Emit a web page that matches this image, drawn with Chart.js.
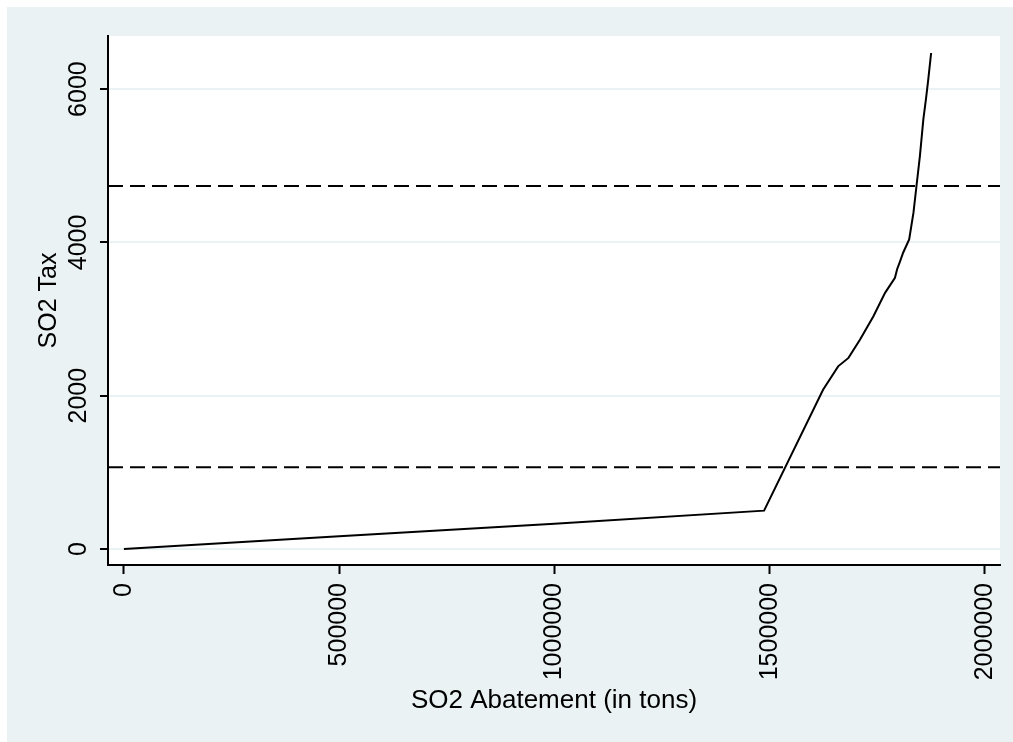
<!DOCTYPE html>
<html>
<head>
<meta charset="utf-8">
<script src="https://cdn.jsdelivr.net/npm/chart.js@4/dist/chart.umd.min.js"></script>
<style>
  body { margin: 0; background: #fff; overflow: hidden; }
  .frame { position: fixed; left: 7px; top: 7px; right: 0; bottom: 0; background: #eaf2f3; }
  #myChart { position: absolute; left: 0; top: 0; }
</style>
</head>
<body>
<div class="frame"><canvas id="myChart" width="1006" height="735"></canvas></div>
<script>
// SO2 abatement (tons) vs SO2 tax
const abatement = [0, 500000, 1000000, 1487000, 1624000, 1659000, 1683000, 1710000, 1741000, 1768000,
    1791000, 1796000, 1802000, 1810000, 1824000, 1834000, 1841000, 1849000, 1857000, 1863000, 1868000, 1875000];
const tax = [0, 165, 330, 500, 2078, 2383, 2493, 2732, 3037, 3342,
    3538, 3650, 3740, 3865, 4039, 4388, 4736, 5128, 5608, 5869, 6109, 6471];
const refLines = [4736, 1068];

const xTicks = [0, 500000, 1000000, 1500000, 2000000];
const yTicks = [0, 2000, 4000, 6000];
const xMin = -37000, xMax = 2035000;
const yMin = -209, yMax = 6693;

const fontFamily = '"Liberation Sans", Arial, sans-serif';

const plotBg = {
    id: 'plotBg',
    beforeDraw(chart) {
        const a = chart.chartArea;
        const ctx = chart.ctx;
        ctx.save();
        ctx.fillStyle = '#fff';
        ctx.fillRect(a.left, a.top, a.right - a.left, a.bottom - a.top);
        ctx.restore();
    }
};

const datasets = [{
    data: abatement.map((x, i) => ({ x: x, y: tax[i] })),
    borderColor: '#000',
    borderWidth: 2,
    pointRadius: 0,
    tension: 0
}];
refLines.forEach(v => {
    datasets.push({
        data: [{ x: xMin, y: v }, { x: xMax, y: v }],
        borderColor: '#000',
        borderWidth: 2,
        borderDash: [15, 7],
        pointRadius: 0
    });
});

let ctx = document.querySelector('#myChart').getContext('2d');
myChart = new Chart(ctx, {
    type: 'line',
    data: { datasets: datasets },
    plugins: [plotBg],
    options: {
        responsive: false,
        animation: false,
        layout: { padding: { top: 29, right: 13, left: 0, bottom: 0 } },
        plugins: {
            legend: { display: false },
            tooltip: { enabled: false }
        },
        scales: {
            x: {
                type: 'linear',
                min: xMin,
                max: xMax,
                afterBuildTicks: s => { s.ticks = xTicks.map(v => ({ value: v })); },
                afterFit: s => { s.height = 177; s.paddingLeft = 0; s.paddingRight = 0; },
                grid: { drawOnChartArea: false, tickLength: 9, tickColor: '#000', tickWidth: 2 },
                border: { display: true, color: '#000', width: 2 },
                ticks: {
                    minRotation: 90,
                    maxRotation: 90,
                    padding: 9,
                    color: '#000',
                    font: { family: fontFamily, size: 25 },
                    callback: v => String(v)
                },
                title: {
                    display: true,
                    text: 'SO2 Abatement (in tons)',
                    color: '#000',
                    font: { family: fontFamily, size: 26 },
                    padding: { top: 0, bottom: 26 }
                }
            },
            y: {
                type: 'linear',
                min: yMin,
                max: yMax,
                afterBuildTicks: s => { s.ticks = yTicks.map(v => ({ value: v })); },
                afterFit: s => { s.width = 101; s.paddingTop = 0; s.paddingBottom = 0; },
                grid: { color: '#eaf2f3', lineWidth: 2, tickLength: 8, tickColor: '#000', tickWidth: 2 },
                border: { display: true, color: '#000', width: 2 },
                ticks: {
                    minRotation: 90,
                    crossAlign: 'center',
                    padding: -7,
                    color: '#000',
                    font: { family: fontFamily, size: 25 },
                    callback: v => String(v)
                },
                title: {
                    display: true,
                    text: 'SO2 Tax',
                    color: '#000',
                    font: { family: fontFamily, size: 25 },
                    padding: { top: 27, bottom: 0 }
                }
            }
        }
    }
});
</script>
</body>
</html>
